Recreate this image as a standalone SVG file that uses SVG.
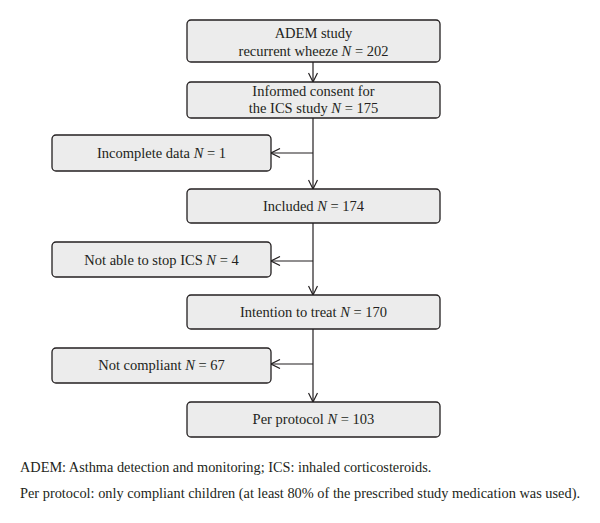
<svg xmlns="http://www.w3.org/2000/svg" width="600" height="523" viewBox="0 0 600 523">
<style>
.box{fill:#ececec;stroke:#231f20;stroke-width:1.3}
.t{font-family:"Liberation Serif",serif;font-size:14.5px;fill:#231f20;text-anchor:middle}
.f{font-family:"Liberation Serif",serif;font-size:14.3px;fill:#231f20}
.c{stroke:#231f20;stroke-width:1.2;fill:none}
.it{font-style:italic}
</style>
<defs>
<marker id="ah" viewBox="0 0 10 10" refX="10" refY="5" markerWidth="10" markerHeight="10" markerUnits="userSpaceOnUse" orient="auto">
<path d="M1,0.5 L10,5 L1,9.5" fill="none" stroke="#231f20" stroke-width="1.2"/>
</marker>
</defs>
<rect width="600" height="523" fill="#fff"/>
<g id="connectors">
<line class="c" x1="313" y1="62" x2="313" y2="82" marker-end="url(#ah)"/>
<line class="c" x1="313" y1="118" x2="313" y2="189" marker-end="url(#ah)"/>
<line class="c" x1="313" y1="153" x2="271" y2="153" marker-end="url(#ah)"/>
<line class="c" x1="313" y1="223" x2="313" y2="295" marker-end="url(#ah)"/>
<line class="c" x1="313" y1="261" x2="271" y2="261" marker-end="url(#ah)"/>
<line class="c" x1="313" y1="329" x2="313" y2="402" marker-end="url(#ah)"/>
<line class="c" x1="313" y1="364" x2="271" y2="364" marker-end="url(#ah)"/>
</g>
<g id="n1"><rect class="box" x="187" y="20" width="253" height="42" rx="4"/>
<text class="t" x="313.5" y="38">ADEM study</text>
<text class="t" x="313.5" y="56">recurrent wheeze <tspan class="it">N</tspan> = 202</text></g>
<g id="n2"><rect class="box" x="187" y="82" width="253" height="36" rx="4"/>
<text class="t" x="313.5" y="96">Informed consent for</text>
<text class="t" x="313.5" y="113">the ICS study <tspan class="it">N</tspan> = 175</text></g>
<g id="n3"><rect class="box" x="52" y="135" width="219" height="36" rx="4"/>
<text class="t" x="161.5" y="158">Incomplete data <tspan class="it">N</tspan> = 1</text></g>
<g id="n4"><rect class="box" x="187" y="189" width="253" height="34" rx="4"/>
<text class="t" x="313.5" y="211">Included <tspan class="it">N</tspan> = 174</text></g>
<g id="n5"><rect class="box" x="52" y="242" width="219" height="35" rx="4"/>
<text class="t" x="161.5" y="265">Not able to stop ICS <tspan class="it">N</tspan> = 4</text></g>
<g id="n6"><rect class="box" x="187" y="295" width="253" height="34" rx="4"/>
<text class="t" x="313.5" y="317">Intention to treat <tspan class="it">N</tspan> = 170</text></g>
<g id="n7"><rect class="box" x="52" y="348" width="219" height="35" rx="4"/>
<text class="t" x="161.5" y="370">Not compliant <tspan class="it">N</tspan> = 67</text></g>
<g id="n8"><rect class="box" x="187" y="402" width="253" height="35" rx="4"/>
<text class="t" x="313.5" y="424">Per protocol <tspan class="it">N</tspan> = 103</text></g>
<g id="notes">
<text class="f" x="20" y="472">ADEM: Asthma detection and monitoring; ICS: inhaled corticosteroids.</text>
<text class="f" x="20" y="498" textLength="560" lengthAdjust="spacingAndGlyphs">Per protocol: only compliant children (at least 80% of the prescribed study medication was used).</text>
</g>
</svg>
